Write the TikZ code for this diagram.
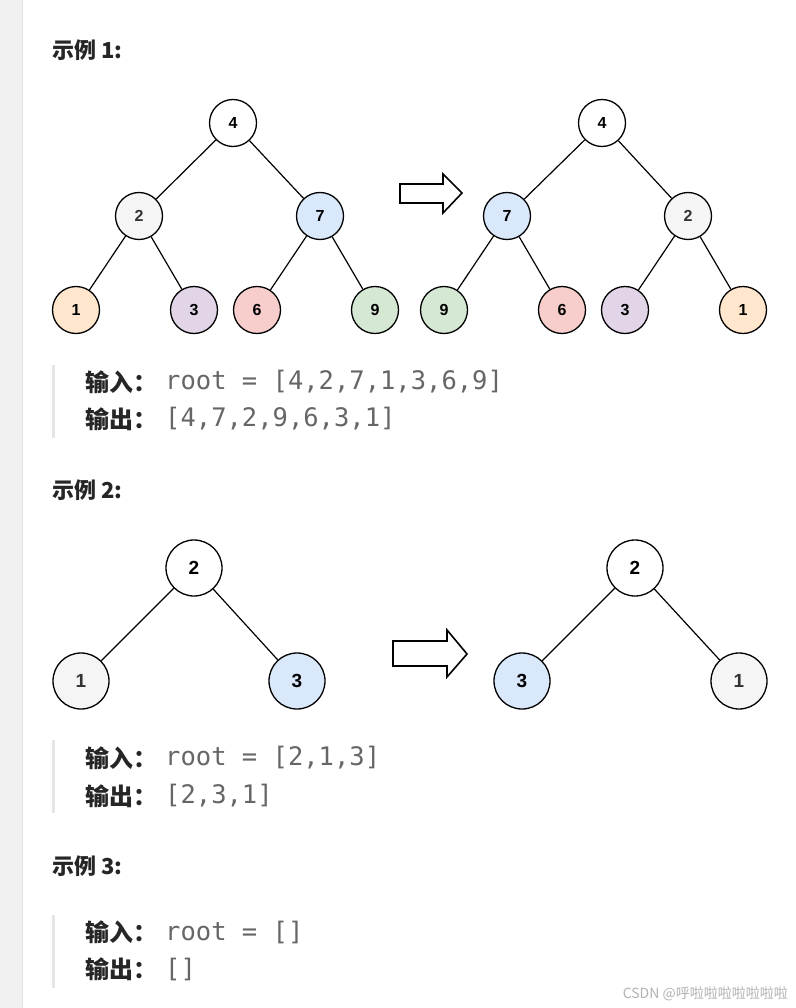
\documentclass[tikz,border=0pt]{standalone}
\usepackage{fontspec}
\newfontfamily\cjk{Noto Sans CJK SC}
\newfontfamily\codefont{DejaVu Sans Mono}
\newfontfamily\numfont{Liberation Sans}
\definecolor{grayfill}{HTML}{F5F5F5}
\definecolor{grayfont}{HTML}{333333}
\definecolor{bluefill}{HTML}{DAE8FC}
\definecolor{orangefill}{HTML}{FFE6CC}
\definecolor{purplefill}{HTML}{E1D5E7}
\definecolor{redfill}{HTML}{F8CECC}
\definecolor{greenfill}{HTML}{D5E8D4}
\definecolor{codegray}{HTML}{666666}
\definecolor{quotebar}{HTML}{E5E5E5}
\definecolor{stripgray}{HTML}{F0F0F0}
\begin{document}
\begin{tikzpicture}[x=1pt,y=-1pt]
\tikzstyle{vertex}=[circle, draw, line width=1.3pt, minimum size=47pt, inner sep=0pt, font=\numfont\bfseries\fontsize{16}{16}\selectfont]
\tikzstyle{bigvertex}=[vertex, minimum size=56pt, font=\numfont\bfseries\fontsize{19}{19}\selectfont]
\tikzstyle{heading}=[anchor=west, inner sep=0pt, font=\cjk\bfseries\fontsize{22}{22}\selectfont, text=black!85]
\tikzstyle{label}=[anchor=west, inner sep=0pt, font=\cjk\bfseries\fontsize{24}{24}\selectfont, text=black!85]
\tikzstyle{code}=[anchor=west, inner sep=0pt, font=\codefont\fontsize{25.5}{25.5}\selectfont, text=codegray]
\tikzstyle{bigarrow}=[draw, fill=white, line width=1.6pt, line join=miter]
\useasboundingbox (0,0) rectangle (795,1008);
\fill[white] (0,0) rectangle (795,1008);
\fill[stripgray] (0,0) rectangle (22,1008);
\draw[black!12] (22,0) -- (22,1008);

% example 1
\node[heading] (h1) at (52,50) {示例 1:};

\node[vertex] (A) at (233,123) {4};
\node[vertex, fill=grayfill, text=grayfont] (B) at (139,216) {2};
\node[vertex, fill=bluefill] (C) at (320,216) {7};
\node[vertex, fill=orangefill] (D) at (76,310) {1};
\node[vertex, fill=purplefill] (E) at (194,310) {3};
\node[vertex, fill=redfill] (F) at (257,310) {6};
\node[vertex, fill=greenfill] (G) at (375,310) {9};

\path[line width=1.2pt]
(A) edge (B)
    edge (C)
(B) edge (D)
    edge (E)
(C) edge (F)
    edge (G);

\draw[bigarrow] (400,184) -- (443,184) -- (443,174) -- (462,193) -- (443,213) -- (443,203) -- (400,203) -- cycle;

\begin{scope}[xshift=369pt]
\node[vertex] (H) at (233,123) {4};
\node[vertex, fill=bluefill] (I) at (138,216) {7};
\node[vertex, fill=grayfill, text=grayfont] (J) at (319,216) {2};
\node[vertex, fill=greenfill] (K) at (75,310) {9};
\node[vertex, fill=redfill] (L) at (193,310) {6};
\node[vertex, fill=purplefill] (M) at (256,310) {3};
\node[vertex, fill=orangefill] (N) at (374,310) {1};

\path[line width=1.2pt]
(H) edge (I)
    edge (J)
(I) edge (K)
    edge (L)
(J) edge (M)
    edge (N);
\end{scope}

\fill[quotebar] (52,365) rectangle (55,438);
\node[label] (in1) at (85,382) {输入：};
\node[code] (inv1) at (165,382) {root = [4,2,7,1,3,6,9]};
\node[label] (out1) at (85,419) {输出：};
\node[code] (outv1) at (165,419) {[4,7,2,9,6,3,1]};

% example 2
\node[heading] (h2) at (52,490) {示例 2:};

\node[bigvertex] (P) at (194,568) {2};
\node[bigvertex, fill=grayfill, text=grayfont] (Q) at (81,681) {1};
\node[bigvertex, fill=bluefill] (R) at (297,681) {3};

\path[line width=1.2pt]
(P) edge (Q)
    edge (R);

\draw[bigarrow] (393,641) -- (447,641) -- (447,630) -- (467,654) -- (447,677) -- (447,666) -- (393,666) -- cycle;

\begin{scope}[xshift=441pt]
\node[bigvertex] (S) at (194,568) {2};
\node[bigvertex, fill=bluefill] (T) at (81,681) {3};
\node[bigvertex, fill=grayfill, text=grayfont] (U) at (298,681) {1};

\path[line width=1.2pt]
(S) edge (T)
    edge (U);
\end{scope}

\fill[quotebar] (52,740) rectangle (55,813);
\node[label] (in2) at (85,758) {输入：};
\node[code] (inv2) at (165,758) {root = [2,1,3]};
\node[label] (out2) at (85,796) {输出：};
\node[code] (outv2) at (165,796) {[2,3,1]};

% example 3
\node[heading] (h3) at (52,866) {示例 3:};

\fill[quotebar] (52,915) rectangle (55,988);
\node[label] (in3) at (85,932) {输入：};
\node[code] (inv3) at (165,932) {root = []};
\node[label] (out3) at (85,969) {输出：};
\node[code] (outv3) at (165,969) {[]};

\node[anchor=east, inner sep=0pt, text=black!30, font=\cjk\fontsize{14}{14}\selectfont] (mark) at (788,994) {CSDN @呼啦啦啦啦啦啦啦};
\end{tikzpicture}
\end{document}
